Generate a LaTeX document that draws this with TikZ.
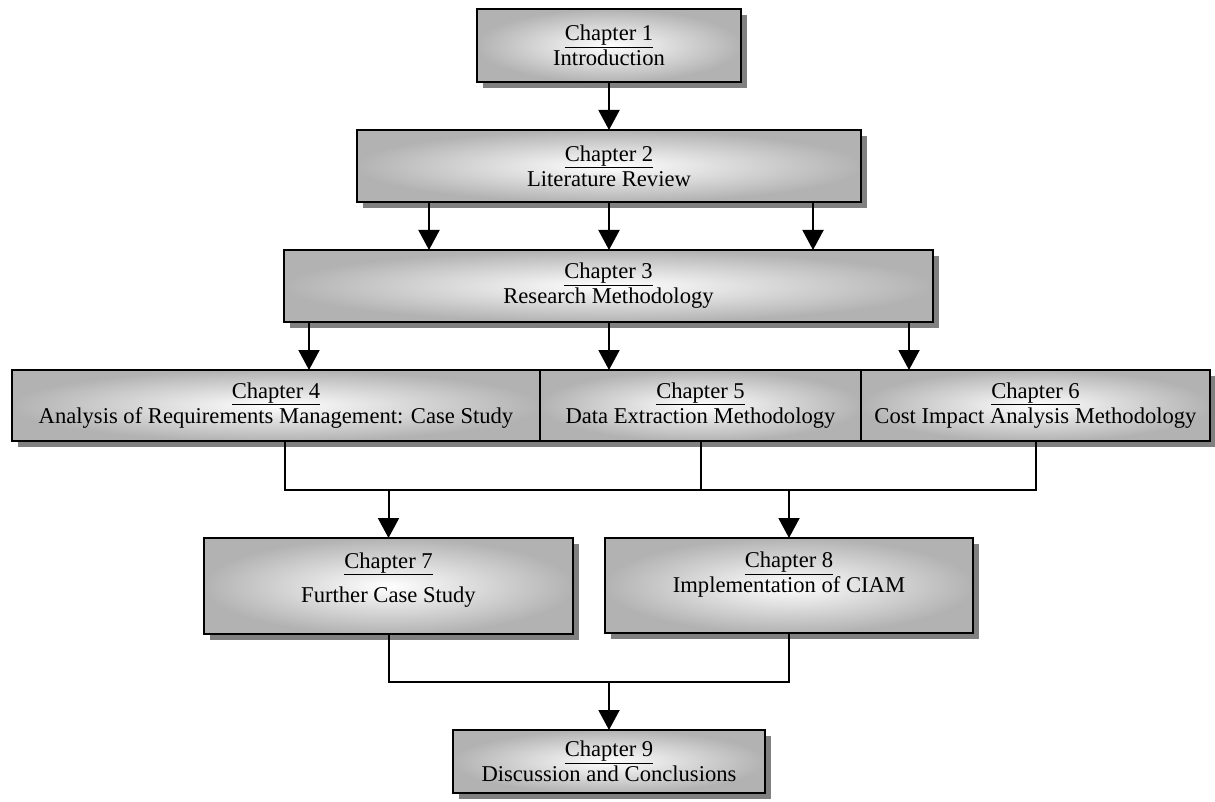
\documentclass[tikz,border=0pt]{standalone}
\usepackage{fontspec}
\setmainfont{Liberation Serif}
\usetikzlibrary{arrows.meta,shadows}
\begin{document}
\begin{tikzpicture}[x=1pt,y=-1pt,
  chbox/.style={rectangle, draw=black, line width=1.8pt, inner sep=0pt, outer sep=0pt,
    shading=radial, inner color=white, outer color=black!30,
    drop shadow={shadow xshift=6pt, shadow yshift=-6pt, fill=black!50, opacity=1}},
  chtext/.style={align=center, font=\fontsize{22.6}{25}\selectfont, inner sep=0pt},
  conn/.style={line width=2pt, draw=black},
  arr/.style={conn, -{Triangle[width=21pt,length=20pt]}}]
\useasboundingbox (0,0) rectangle (1215,802);
\fill[white] (0,0) rectangle (1215,802);
% boxes
\node[chbox, minimum width=264pt, minimum height=73pt] (c1) at (609,45.5) {};
\node[chbox, minimum width=504pt, minimum height=72pt] (c2) at (609,166) {};
\node[chbox, minimum width=649pt, minimum height=72pt] (c3) at (608.5,286) {};
\node[chbox, minimum width=528pt, minimum height=71pt] (c4) at (276,405.5) {};
\node[chbox, minimum width=321pt, minimum height=71pt] (c5) at (700.5,405.5) {};
\node[chbox, minimum width=349pt, minimum height=71pt] (c6) at (1035.5,405.5) {};
\node[chbox, minimum width=369pt, minimum height=96pt] (c7) at (388.5,586) {};
\node[chbox, minimum width=368pt, minimum height=95pt] (c8) at (789,585.5) {};
\node[chbox, minimum width=312pt, minimum height=63pt] (c9) at (609,761.5) {};
% texts
\node[chtext] (t1) at (c1.center) {\underline{Chapter 1}\\Introduction};
\node[chtext] (t2) at (c2.center) {\underline{Chapter 2}\\Literature Review};
\node[chtext] (t3) at (c3.center) {\underline{Chapter 3}\\Research Methodology};
\node[chtext] (t4) at (c4.center) {\underline{Chapter 4}\\Analysis of Requirements Management: Case Study};
\node[chtext] (t5) at (c5.center) {\underline{Chapter 5}\\Data Extraction Methodology};
\node[chtext] (t6) at (c6.center) {\underline{Chapter 6}\\Cost Impact Analysis Methodology};
\node[chtext, font=\fontsize{22.6}{34}\selectfont] (t7) at (388.5,580) {\underline{Chapter 7}\\Further Case Study};
\node[chtext] (t8) at (789,575) {\underline{Chapter 8}\\Implementation of CIAM};
\node[chtext] (t9) at (c9.center) {\underline{Chapter 9}\\Discussion and Conclusions};
% connectors
\draw[arr] (c1.south) -- (c2.north);
\draw[arr] ([xshift=-180pt]c2.south) -- ([xshift=-180pt]c2.south |- c3.north);
\draw[arr] (c2.south) -- (c2.south |- c3.north);
\draw[arr] ([xshift=204pt]c2.south) -- ([xshift=204pt]c2.south |- c3.north);
\draw[arr] ([xshift=-299.5pt]c3.south) -- ([xshift=-299.5pt]c3.south |- c4.north);
\draw[arr] ([xshift=0.5pt]c3.south) -- ([xshift=0.5pt]c3.south |- c5.north);
\draw[arr] ([xshift=300.5pt]c3.south) -- ([xshift=300.5pt]c3.south |- c6.north);
\coordinate (m1) at (285,490);
\coordinate (m2) at (609,682);
\draw[conn] (c4.south -| m1) -- (m1) -- (c6.south |- m1) -- (c6.south);
\draw[conn] (c5.south) -- (c5.south |- m1);
\draw[arr] (c7.north |- m1) -- (c7.north);
\draw[arr] (c8.north |- m1) -- (c8.north);
\draw[conn] (c7.south) -- (c7.south |- m2) -- (c8.south |- m2) -- (c8.south);
\draw[arr] (m2) -- (c9.north);
\end{tikzpicture}
\end{document}
